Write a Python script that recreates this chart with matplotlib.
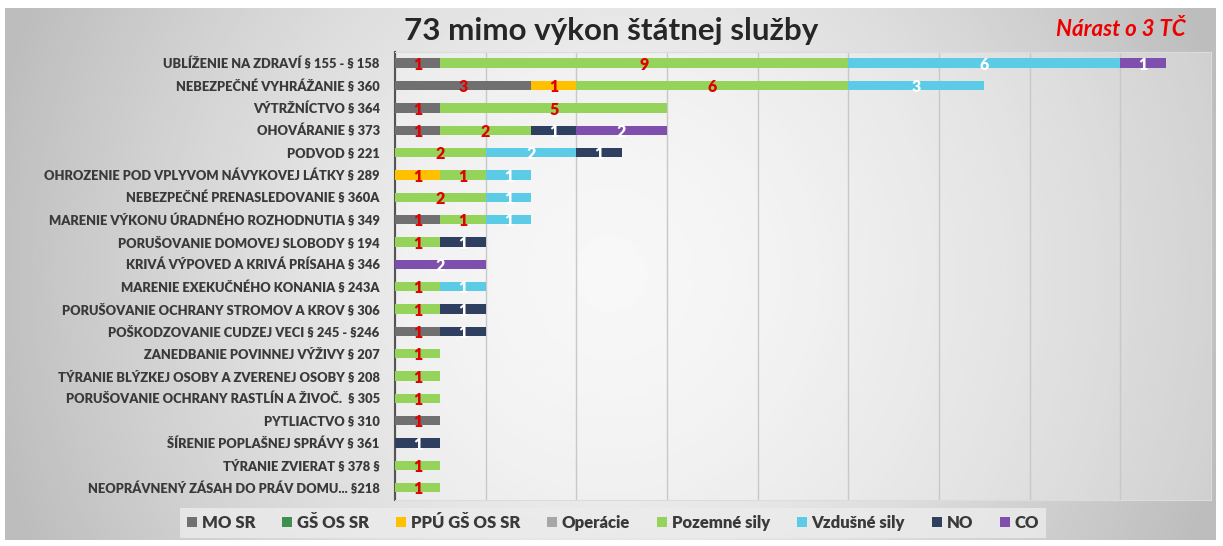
import numpy as np
import matplotlib
matplotlib.use('Agg')
import matplotlib.pyplot as plt
from matplotlib.patches import Patch

# kategórie trestných činov (zhora nadol)
categories = [
    'UBLÍŽENIE NA ZDRAVÍ § 155 - § 158',
    'NEBEZPEČNÉ VYHRÁŽANIE § 360',
    'VÝTRŽNÍCTVO § 364',
    'OHOVÁRANIE § 373',
    'PODVOD § 221',
    'OHROZENIE POD VPLYVOM NÁVYKOVEJ LÁTKY § 289',
    'NEBEZPEČNÉ PRENASLEDOVANIE § 360A',
    'MARENIE VÝKONU ÚRADNÉHO ROZHODNUTIA § 349',
    'PORUŠOVANIE DOMOVEJ SLOBODY § 194',
    'KRIVÁ VÝPOVED A KRIVÁ PRÍSAHA § 346',
    'MARENIE EXEKUČNÉHO KONANIA § 243A',
    'PORUŠOVANIE OCHRANY STROMOV A KROV § 306',
    'POŠKODZOVANIE CUDZEJ VECI § 245 - §246',
    'ZANEDBANIE POVINNEJ VÝŽIVY § 207',
    'TÝRANIE BLÝZKEJ OSOBY A ZVERENEJ OSOBY § 208',
    'PORUŠOVANIE OCHRANY RASTLÍN A ŽIVOČ.  § 305',
    'PYTLIACTVO § 310',
    'ŠÍRENIE POPLAŠNEJ SPRÁVY § 361',
    'TÝRANIE ZVIERAT § 378 §',
    'NEOPRÁVNENÝ ZÁSAH DO PRÁV DOMU... §218',
]

series = ['MO SR', 'GŠ OS SR', 'PPÚ GŠ OS SR', 'Operácie',
          'Pozemné sily', 'Vzdušné sily', 'NO', 'CO']

mo_sr     = [1, 3, 1, 1, 0, 0, 0, 1, 0, 0, 0, 0, 1, 0, 0, 0, 1, 0, 0, 0]
gs_os_sr  = [0, 0, 0, 0, 0, 0, 0, 0, 0, 0, 0, 0, 0, 0, 0, 0, 0, 0, 0, 0]
ppu       = [0, 1, 0, 0, 0, 1, 0, 0, 0, 0, 0, 0, 0, 0, 0, 0, 0, 0, 0, 0]
operacie  = [0, 0, 0, 0, 0, 0, 0, 0, 0, 0, 0, 0, 0, 0, 0, 0, 0, 0, 0, 0]
pozemne   = [9, 6, 5, 2, 2, 1, 2, 1, 1, 0, 1, 1, 0, 1, 1, 1, 0, 0, 1, 1]
vzdusne   = [6, 3, 0, 0, 2, 1, 1, 1, 0, 0, 1, 0, 0, 0, 0, 0, 0, 0, 0, 0]
no        = [0, 0, 0, 1, 1, 0, 0, 0, 1, 0, 0, 1, 1, 0, 0, 0, 0, 1, 0, 0]
co        = [1, 0, 0, 2, 0, 0, 0, 0, 0, 2, 0, 0, 0, 0, 0, 0, 0, 0, 0, 0]

values = [mo_sr, gs_os_sr, ppu, operacie, pozemne, vzdusne, no, co]
colors = ['#707070', '#3f8f4f', '#ffc000', '#a6a6a6',
          '#96d35a', '#5bcbe6', '#2e3f5f', '#7f4fad']
label_colors = ['#e00000', '#e00000', '#e00000', '#e00000',
                '#e00000', 'white', 'white', 'white']

title = '73 mimo výkon štátnej služby'
note = 'Nárast o 3 TČ'

FONT = ['Lato', 'DejaVu Sans']

fig = plt.figure(figsize=(12.23, 5.46), dpi=100)

# pozadie s prechodom
bg = fig.add_axes([0, 0, 1, 1], zorder=-10)
xx, yy = np.meshgrid(np.linspace(-1, 1, 400), np.linspace(-1, 1, 200))
shade = 0.96 - 0.22 * np.clip(np.sqrt((xx * 0.95) ** 2 + (yy * 0.4) ** 2), 0, 1) ** 1.5
bg.imshow(shade, cmap='gray', vmin=0, vmax=1, aspect='auto',
          extent=[5 / 1223, 1216 / 1223, 6 / 546, 538 / 546], zorder=0)
bg.set_xlim(0, 1)
bg.set_ylim(0, 1)
bg.axis('off')

ax = fig.add_axes([395 / 1223, 1 - 500 / 546, (1211 - 395) / 1223, (500 - 52) / 546])
ax.set_facecolor((1, 1, 1, 0.3))

y = np.arange(len(categories))
left = np.zeros(len(categories))
for name, vals, col, lcol in zip(series, values, colors, label_colors):
    vals = np.array(vals, dtype=float)
    ax.barh(y, vals, left=left, height=0.42, color=col, label=name, zorder=3)
    for i, v in enumerate(vals):
        if v > 0:
            ax.text(left[i] + v / 2, y[i] + 0.08, f'{int(v)}', ha='center', va='center',
                    color=lcol, fontsize=11.5, fontweight='heavy', family=FONT, zorder=4)
    left += vals

ax.set_xlim(0, 18)
ax.set_ylim(len(categories) - 0.45, -0.5)
ax.set_xticks(np.arange(0, 19, 2))
ax.xaxis.grid(True, color='#c8c8c8', linewidth=1, zorder=0)
ax.tick_params(axis='x', length=0, labelbottom=False)
ax.tick_params(axis='y', length=0, pad=11)
ax.set_yticks(y)
ax.set_yticklabels(categories, fontsize=9.3, fontweight='heavy', color='#3a3a3a', family=FONT)
for side in ['top', 'right', 'bottom']:
    ax.spines[side].set_color('#dcdcdc')
ax.spines['left'].set_color('#555555')
ax.spines['left'].set_linewidth(1.5)

fig.text(0.5, 1 - 31 / 546, title, ha='center', va='center', fontsize=22.6,
         color='#262626', fontweight='bold', family=FONT)
fig.text(1121 / 1223, 1 - 30 / 546, note, ha='center', va='center', fontsize=16,
         color='#ee0000', fontweight='bold', style='italic', family=FONT)

handles = [Patch(facecolor=c, label=s) for s, c in zip(series, colors)]
leg = fig.legend(handles=handles, loc='center', bbox_to_anchor=(613 / 1223, 1 - 523 / 546),
                 ncol=8, frameon=True, handlelength=0.6, handleheight=0.6,
                 handletextpad=0.3, columnspacing=1.6, borderpad=0.3,
                 prop={'family': FONT, 'weight': 'heavy', 'size': 12})
leg.get_frame().set_facecolor('#ececec')
leg.get_frame().set_edgecolor('none')
leg.get_frame().set_boxstyle('square', pad=0.1)
for t in leg.get_texts():
    t.set_color('#3a3a3a')

fig.savefig('out.png', dpi=100)
